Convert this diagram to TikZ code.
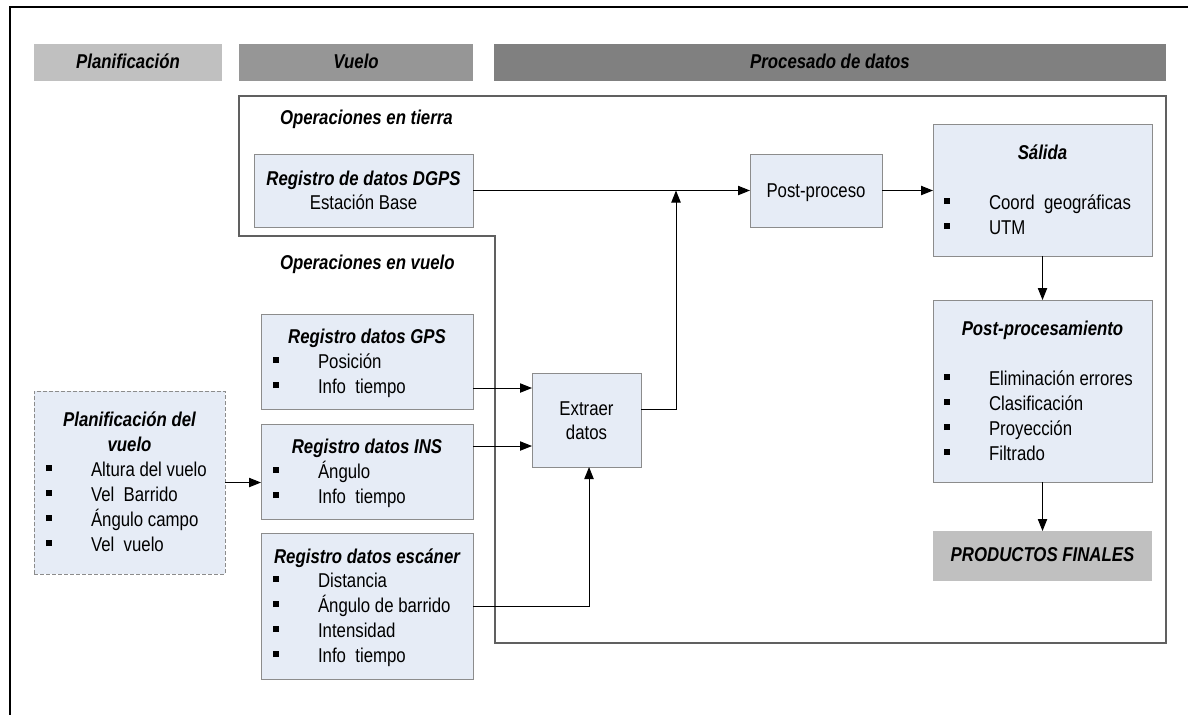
\documentclass[tikz,border=0pt]{standalone}
\usepackage{fontspec}
\setmainfont{Liberation Sans}[FakeStretch=0.84]
\usetikzlibrary{fit,arrows.meta}

\definecolor{boxfill}{RGB}{230,236,246}
\definecolor{boxline}{RGB}{140,140,140}
\definecolor{hdrA}{RGB}{192,192,192}
\definecolor{hdrB}{RGB}{150,150,150}
\definecolor{hdrC}{RGB}{128,128,128}
\definecolor{frameline}{RGB}{96,96,96}

% square bullet followed by the indent of a list item
\newcommand\bul{\makebox[33.75pt][l]{\rule[3.75pt]{4.2pt}{4.5pt}}}

\begin{document}
\begin{tikzpicture}[x=0.75pt,y=-0.75pt,
  font=\fontsize{15}{18.75}\selectfont,
  box/.style={draw=boxline, fill=boxfill, line width=0.75pt, inner sep=0pt, outer sep=0pt},
  dashbox/.style={box, dash pattern=on 3pt off 1.5pt},
  bar/.style={fill=#1, inner sep=0pt, outer sep=0pt},
  txt/.style={inner sep=0pt, outer sep=0pt, anchor=base},
  ttl/.style={txt, font=\fontsize{15}{18.75}\selectfont\bfseries\itshape},
  itm/.style={txt, anchor=base west, execute at begin node=\bul},
  link/.style={-{Triangle[length=9pt,width=7pt]}, line width=0.75pt}]

\useasboundingbox (0,0) rectangle (1188,715);

% page frame
\draw[line width=1.5pt] (1188,7) -- (10,7) -- (10,715);

% phase headers
\node[bar=hdrA, fit={(34,44) (222,81)}] (hplan) {};
\node[ttl] (hplant) at (128,68) {Planificación};
\node[bar=hdrB, fit={(239,44) (473,81)}] (hvuelo) {};
\node[ttl] (hvuelot) at (356,68) {Vuelo};
\node[bar=hdrC, fit={(494,44) (1166,81)}] (hproc) {};
\node[ttl] (hproct) at (830,68) {Procesado de datos};

% ground / flight operations outline
\draw[frameline, line width=1.1pt] (239,96) -- (1166,96) -- (1166,643) -- (495,643)
  -- (495,236) -- (239,236) -- cycle;
\node[ttl, anchor=base west] (optierra) at (280,124) {Operaciones en tierra};
\node[ttl, anchor=base west] (opvuelo) at (280,269) {Operaciones en vuelo};

% DGPS base station
\node[box, fit={(254,154) (473,227)}] (dgps) {};
\node[ttl] (dgpst) at (363.5,185) {Registro de datos DGPS};
\node[txt] (dgpss) at (363.5,209) {Estación Base};

% GPS
\node[box, fit={(261,314) (473,409)}] (gps) {};
\node[ttl] (gpst) at (367,343) {Registro datos GPS};
\node[itm] (gps1) at (273,368) {Posición};
\node[itm] (gps2) at (273,393) {Info~ tiempo};

% INS
\node[box, fit={(261,424) (473,519)}] (ins) {};
\node[ttl] (inst) at (367,453) {Registro datos INS};
\node[itm] (ins1) at (273,478) {Ángulo};
\node[itm] (ins2) at (273,503) {Info~ tiempo};

% scanner
\node[box, fit={(261,533) (473,679)}] (scan) {};
\node[ttl] (scant) at (367,563) {Registro datos escáner};
\node[itm] (scan1) at (273,587) {Distancia};
\node[itm] (scan2) at (273,612) {Ángulo de barrido};
\node[itm] (scan3) at (273,637) {Intensidad};
\node[itm] (scan4) at (273,662) {Info~ tiempo};

% flight planning
\node[dashbox, fit={(34,391) (225,574)}] (plan) {};
\node[ttl] (plant1) at (129.5,426) {Planificación del};
\node[ttl] (plant2) at (129.5,451) {vuelo};
\node[itm] (plan1) at (46,476) {Altura del vuelo};
\node[itm] (plan2) at (46,501) {Vel~ Barrido};
\node[itm] (plan3) at (46,526) {Ángulo campo};
\node[itm] (plan4) at (46,551) {Vel~ vuelo};

% data extraction
\node[box, fit={(532,373) (641,467)}] (extr) {};
\node[txt] (extrt1) at (586.5,415) {Extraer};
\node[txt] (extrt2) at (586.5,439) {datos};

% post-processing of the trajectory
\node[box, fit={(750,154) (882,227)}] (post) {};
\node[txt] (postt) at (816,197) {Post-proceso};

% output
\node[box, fit={(933,124) (1152,256)}] (sal) {};
\node[ttl] (salt) at (1042.5,159) {Sálida};
\node[itm] (sal1) at (944,209) {Coord~ geográficas};
\node[itm] (sal2) at (944,234) {UTM};

% point cloud post-processing
\node[box, fit={(933,300) (1152,482)}] (pp) {};
\node[ttl] (ppt) at (1042.5,335) {Post-procesamiento};
\node[itm] (pp1) at (944,385) {Eliminación errores};
\node[itm] (pp2) at (944,410) {Clasificación};
\node[itm] (pp3) at (944,435) {Proyección};
\node[itm] (pp4) at (944,460) {Filtrado};

% final products
\node[bar=hdrA, fit={(933,531) (1152,581)}] (prod) {};
\node[ttl] (prodt) at (1042.5,561) {PRODUCTOS FINALES};

% connectors
\coordinate (gpsin) at (532,388);
\coordinate (insin) at (532,446);
\coordinate (riser) at (676,409);

\draw[link] (plan.east) -- (plan.east -| ins.west);
\draw[link] (gps.east |- gpsin) -- (gpsin);
\draw[link] (ins.east |- insin) -- (insin);
\draw[link] (scan.east) -| ([xshift=1.9pt]extr.south);
\draw[link] (riser -| extr.east) -- (riser) -- (riser |- dgps.east);
\draw[link] (dgps.east) -- (post.west);
\draw[link] (post.east) -- (post.east -| sal.west);
\draw[link] (sal.south) -- (pp.north);
\draw[link] (pp.south) -- (prod.north);

\end{tikzpicture}
\end{document}
